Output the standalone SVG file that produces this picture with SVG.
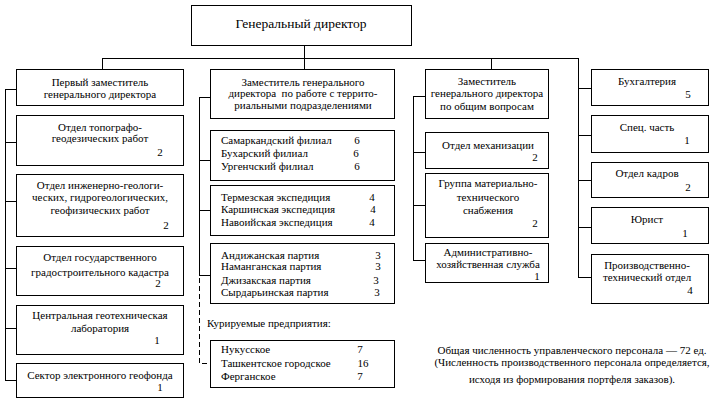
<svg xmlns="http://www.w3.org/2000/svg" width="725" height="405" viewBox="0 0 725 405">
<style>
.b{fill:#fff;stroke:#000;stroke-width:1}
.c{fill:none;stroke:#000;stroke-width:1}
.d{fill:none;stroke:#000;stroke-width:1;stroke-dasharray:5,3}
.m{text-anchor:middle}
</style>
<rect width="725" height="405" fill="#fff"/>
<g id="connectors">
<path class="c" d="M304.5 45V69M102.5 58.5H578.5M102.5 58V69M491.5 58V69M578.5 58V277"/>
<path class="c" d="M5.5 89V380M5 89.5H16M5 142.5H16M5 201.5H16M5 268.5H16M5 328.5H16M5 380.5H16"/>
<path class="c" d="M199.5 97V275M199 97.5H210M199 160.5H210M199 210.5H210M199 275.5H210"/>
<path class="d" d="M199.5 278V363.5H210"/>
<path class="c" d="M413.5 96V260M413 96.5H425M413 152.5H425M413 205.5H425M413 260.5H425"/>
<path class="c" d="M578 88.5H591M578 135.5H591M578 180.5H591M578 227.5H591M578 277.5H591"/>
</g>
<g font-family="Liberation Serif" font-size="11" fill="#000">
<g id="gd"><rect class="b" x="191.5" y="5.5" width="220" height="40"/><text class="m" font-size="13.5" x="301" y="28">Генеральный директор</text></g>
<g id="dep1"><rect class="b" x="16.5" y="69.5" width="167" height="36"/><text class="m" x="100" y="86">Первый заместитель</text><text class="m" x="100" y="98">генерального директора</text></g>
<g id="dep2"><rect class="b" x="210.5" y="69.5" width="184" height="49"/><text class="m" x="303" y="86">Заместитель генерального</text><text class="m" x="303" y="97" xml:space="preserve">директора  по работе с террито-</text><text class="m" x="303" y="109">риальными подразделениями</text></g>
<g id="dep3"><rect class="b" x="425.5" y="69.5" width="123" height="49"/><text class="m" x="487" y="85">Заместитель</text><text class="m" x="487" y="97">генерального директора</text><text class="m" x="487" y="110">по общим вопросам</text></g>
<g id="buh"><rect class="b" x="591.5" y="69.5" width="117" height="36"/><text class="m" x="647" y="85">Бухгалтерия</text><text class="m" x="688" y="98">5</text></g>
<g id="topo"><rect class="b" x="16.5" y="115.5" width="167" height="50"/><text class="m" x="100" y="131">Отдел топографо-</text><text class="m" x="100" y="142">геодезических работ</text><text class="m" x="160" y="156">2</text></g>
<g id="ingeo"><rect class="b" x="16.5" y="174.5" width="167" height="62"/><text class="m" x="100" y="189">Отдел инженерно-геологи-</text><text class="m" x="100" y="201">ческих, гидрогеологических,</text><text class="m" x="100" y="214">геофизических работ</text><text class="m" x="166" y="229">2</text></g>
<g id="kadastr"><rect class="b" x="16.5" y="246.5" width="167" height="49"/><text class="m" x="100" y="261">Отдел государственного</text><text class="m" x="100" y="276">градостроительного кадастра</text><text class="m" x="158" y="287">2</text></g>
<g id="lab"><rect class="b" x="16.5" y="305.5" width="167" height="49"/><text class="m" x="100" y="319">Центральная геотехническая</text><text class="m" x="100" y="332">лаборатория</text><text class="m" x="157" y="344">1</text></g>
<g id="geofond"><rect class="b" x="16.5" y="363.5" width="167" height="34"/><text class="m" x="100" y="379">Сектор электронного геофонда</text><text class="m" x="160" y="391">1</text></g>
<g id="filial"><rect class="b" x="210.5" y="130.5" width="184" height="50"/><text x="221" y="144">Самаркандский филиал</text><text x="221" y="157">Бухарский филиал</text><text x="221" y="170">Ургенчский филиал</text><text class="m" x="357" y="144">6</text><text class="m" x="356" y="157">6</text><text class="m" x="357" y="170">6</text></g>
<g id="exp"><rect class="b" x="210.5" y="185.5" width="184" height="50"/><text x="221" y="201">Термезская экспедиция</text><text x="221" y="213">Каршинская экспедиция</text><text x="221" y="226">Навоийская экспедиция</text><text class="m" x="372" y="201">4</text><text class="m" x="373" y="213">4</text><text class="m" x="372" y="226">4</text></g>
<g id="party"><rect class="b" x="210.5" y="243.5" width="184" height="60"/><text x="221" y="259">Андижанская партия</text><text x="221" y="270">Наманганская партия</text><text x="221" y="284">Джизакская партия</text><text x="221" y="296">Сырдарьинская партия</text><text class="m" x="378" y="259">3</text><text class="m" x="378" y="270">3</text><text class="m" x="376" y="284">3</text><text class="m" x="377" y="296">3</text></g>
<g id="kur-label"><text x="207" y="327">Курируемые предприятия:</text></g>
<g id="kur"><rect class="b" x="210.5" y="340.5" width="184" height="47"/><text x="221" y="353">Нукусское</text><text x="221" y="367">Ташкентское городское</text><text x="221" y="380">Ферганское</text><text class="m" x="360" y="353">7</text><text class="m" x="363" y="367">16</text><text class="m" x="360" y="380">7</text></g>
<g id="mech"><rect class="b" x="425.5" y="132.5" width="123" height="36"/><text class="m" x="488" y="149">Отдел механизации</text><text class="m" x="535" y="161">2</text></g>
<g id="mts"><rect class="b" x="425.5" y="173.5" width="123" height="64"/><text class="m" x="488" y="187">Группа материально-</text><text class="m" x="488" y="201">технического</text><text class="m" x="488" y="214">снабжения</text><text class="m" x="535" y="227">2</text></g>
<g id="ahs"><rect class="b" x="425.5" y="243.5" width="123" height="39"/><text class="m" x="488" y="256">Административно-</text><text class="m" x="488" y="268">хозяйственная служба</text><text class="m" x="537" y="280">1</text></g>
<g id="spec"><rect class="b" x="591.5" y="115.5" width="117" height="37"/><text class="m" x="647" y="131">Спец. часть</text><text class="m" x="687" y="144">1</text></g>
<g id="kadry"><rect class="b" x="591.5" y="162.5" width="117" height="35"/><text class="m" x="647" y="177">Отдел кадров</text><text class="m" x="688" y="191">2</text></g>
<g id="jurist"><rect class="b" x="591.5" y="207.5" width="117" height="36"/><text class="m" x="647" y="223">Юрист</text><text class="m" x="685" y="237">1</text></g>
<g id="pto"><rect class="b" x="591.5" y="254.5" width="117" height="49"/><text class="m" x="647" y="269">Производственно-</text><text class="m" x="647" y="281">технический отдел</text><text class="m" x="690" y="294">4</text></g>
<g id="note"><text class="m" x="572" y="354">Общая численность управленческого персонала — 72 ед.</text><text class="m" x="572" y="366">(Численность производственного персонала определяется,</text><text class="m" x="572" y="383">исходя из формирования портфеля заказов).</text></g>
</g>
</svg>
